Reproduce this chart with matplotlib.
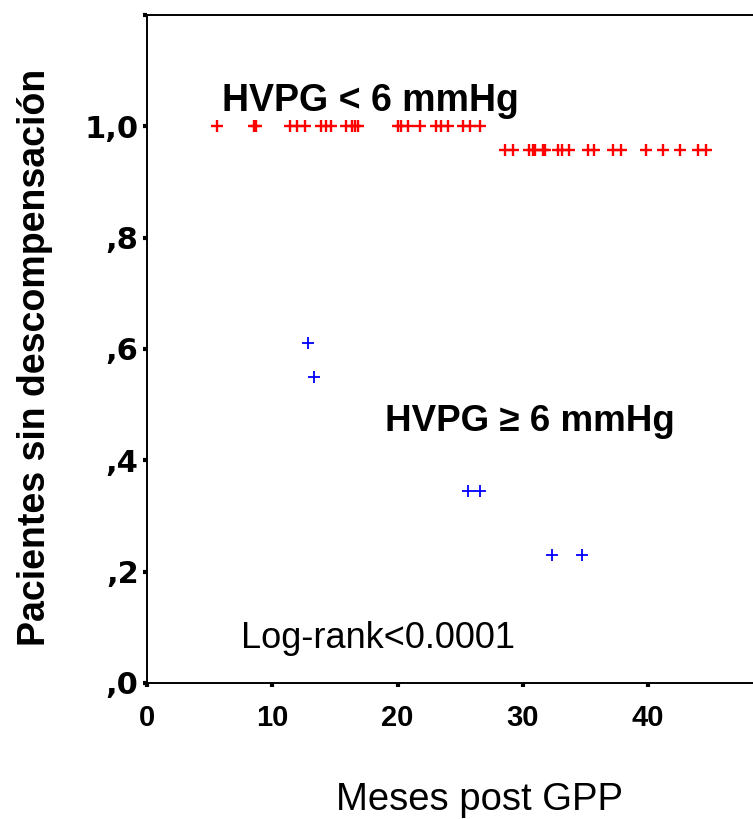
import matplotlib
matplotlib.use("Agg")
import matplotlib.pyplot as plt

# Censored observations, HVPG < 6 mmHg (months, survival)
red_x_top = [5.6, 8.5, 8.7, 11.4, 12.0, 12.6, 13.9, 14.3, 14.7, 15.9, 16.4, 16.6, 16.8,
             20.0, 20.3, 20.8, 21.8, 23.1, 23.5, 24.0, 25.2, 25.8, 26.6]
red_y_top = 1.0
red_x_low = [28.6, 29.2, 30.5, 30.8, 31.0, 31.6, 31.8, 32.8, 33.1, 33.7, 35.2, 35.7,
             37.2, 37.8, 39.8, 41.2, 42.5, 44.0, 44.6]
red_y_low = 0.958

# Censored observations, HVPG >= 6 mmHg
blue_x = [12.85, 13.3, 25.6, 26.6, 32.3, 34.7]
blue_y = [0.611, 0.55, 0.345, 0.345, 0.23, 0.23]

yticks = [0.0, 0.2, 0.4, 0.6, 0.8, 1.0, 1.2]
yticklabels = [",0", ",2", ",4", ",6", ",8", "1,0", ""]
xticks = [0, 10, 20, 30, 40]
xticklabels = ["0", "10", "20", "30", "40"]

plt.rcParams['font.family'] = ['Liberation Sans', 'DejaVu Sans']

W, H = 753, 819
fig = plt.figure(figsize=(W / 100, H / 100), dpi=100)
left, bottom, top = 147, 683, 15
ax = fig.add_axes([left / W, (H - bottom) / H, 626.5 / W, (bottom - top) / H])

ax.plot(red_x_top, [red_y_top] * len(red_x_top), linestyle='none', marker='+',
        color='#ff0000', markersize=9, markeredgewidth=1.7)
ax.plot(red_x_low, [red_y_low] * len(red_x_low), linestyle='none', marker='+',
        color='#ff0000', markersize=9, markeredgewidth=1.7)
ax.plot(blue_x, blue_y, linestyle='none', marker='+',
        color='#0000ff', markersize=9, markeredgewidth=1.3)

ax.set_xlim(0, 50)
ax.set_ylim(0, 1.2)
ax.set_xticks(xticks)
ax.set_xticklabels(xticklabels, fontsize=21, fontweight='bold')
ax.set_yticks(yticks)
ax.set_yticklabels(yticklabels, fontsize=22, fontweight='bold', family='DejaVu Sans')
ax.tick_params(direction='out', length=3, width=3)
ax.tick_params(axis='x', pad=12)
ax.tick_params(axis='y', pad=3)

for s in ax.spines.values():
    s.set_linewidth(1.4)

ax.text(6.0, 1.027, "HVPG < 6 mmHg", fontsize=27, fontweight='bold', ha='left', va='baseline')
ax.text(19.0, 0.452, "HVPG \u2265 6 mmHg", fontsize=26.5, fontweight='bold', ha='left', va='baseline')
ax.text(7.5, 0.063, "Log-rank<0.0001", fontsize=26, ha='left', va='baseline')

fig.text(35 / W, 1 - 357 / H, "Pacientes sin descompensación", fontsize=27, fontweight='bold',
         rotation=90, ha='center', va='center')
fig.text(480 / W, 1 - 800 / H, "Meses post GPP", fontsize=27.5, ha='center', va='center')

fig.savefig("out.png", dpi=100)
